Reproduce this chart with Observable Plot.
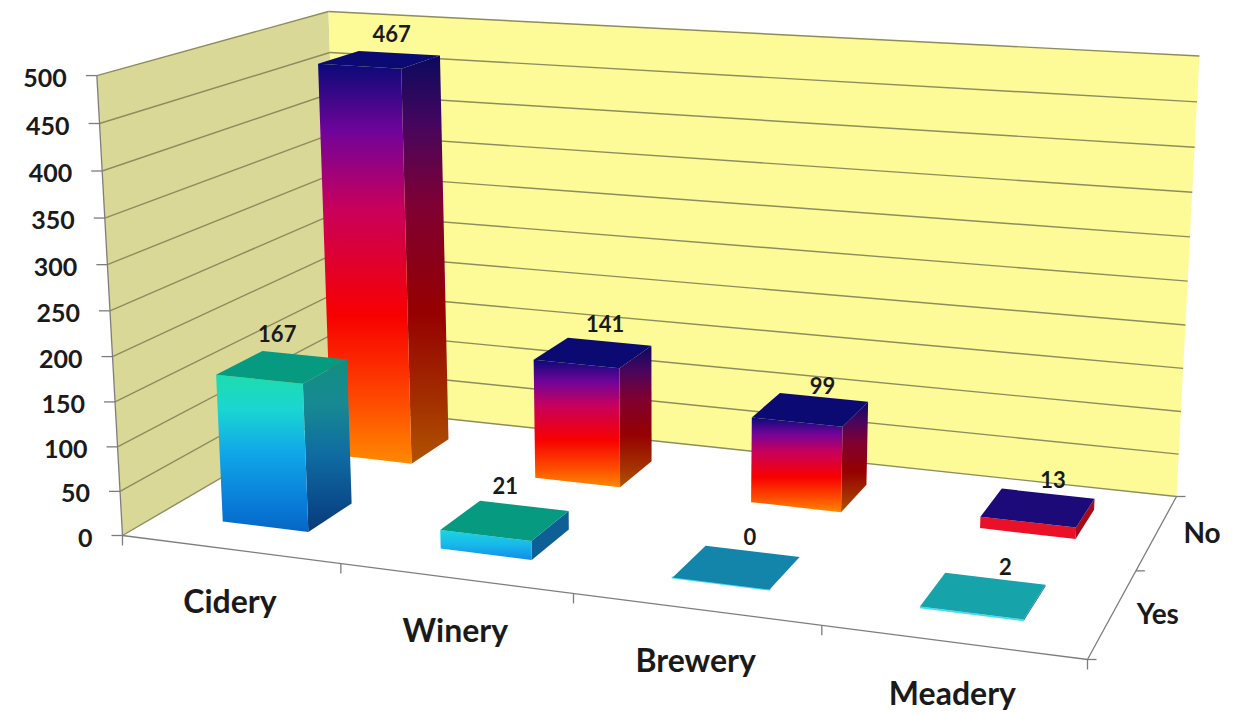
<!DOCTYPE html>
<html>
<head>
<meta charset="utf-8">
<script src="https://cdn.jsdelivr.net/npm/d3@7"></script>
<script src="https://cdn.jsdelivr.net/npm/@observablehq/plot@0.6"></script>
<style>
  html, body { margin: 0; padding: 0; background: #fff; }
  svg { display: block; }
</style>
</head>
<body>
<div id="chart"></div>
<script>
// Chart data
const categories = ["Cidery", "Winery", "Brewery", "Meadery"];
const seriesNames = ["Yes", "No"];
const yesValues = [167, 21, 0, 2];
const noValues = [467, 141, 99, 13];
const valueTicks = [0, 50, 100, 150, 200, 250, 300, 350, 400, 450, 500];

// Face colours per bar; short bars only show part of the full gradient
const yesTops = ["#069a80", "#069a80", "#1385ab", "#17a3aa"];
const noTops = ["#0a0a72", "#0a0a72", "#0a0a72", "#1c0a78"];
const yesFronts = ["url(#yesFront)", "url(#yesStub)", "#45dcf0", "#45dcf0"];
const yesSides = ["url(#yesSide)", "#0e5f96", "#0e5f96", "#0e7f96"];
const noFronts = ["url(#noFront)", "url(#noFront)", "url(#noFront)", "#ea1028"];
const noSides = ["url(#noSide)", "url(#noSide)", "url(#noSide)", "#a80a18"];

// Fine placement of the value labels, in pixels
const yesLabelDx = [-5, 0, 13, 22];
const yesLabelDy = [-32, -33, -29, -28];
const noLabelDx = [12, 12, 12, 15];
const noLabelDy = [-25, -28, -23, -27];

// Vertical gradients used on the bar faces: [offset, colour]
const gradients = {
  yesFront: [[0, "#1edcae"], [0.22, "#1ad6d2"], [0.5, "#10a6e8"], [0.85, "#0878d6"], [1, "#0566c4"]],
  yesStub: [[0, "#1ad6e0"], [0.5, "#18b8ea"], [1, "#0f8ce8"]],
  yesSide: [[0, "#128e80"], [0.25, "#178a92"], [0.55, "#0f6ca2"], [0.85, "#0a4a8a"], [1, "#083a78"]],
  noFront: [[0, "#0a0a78"], [0.17, "#70049a"], [0.36, "#c8005c"], [0.63, "#f80000"], [0.86, "#ff5000"], [1, "#ff8a00"]],
  noSide: [[0, "#0a0a5e"], [0.17, "#46065e"], [0.36, "#7e0034"], [0.63, "#960000"], [0.86, "#a43200"], [1, "#b05400"]]
};

// Perspective camera: the floor is a plane given by its corners in page pixels
// (front-left, front-right, back-right, back-left); the height axis adds a
// homogeneous offset that leans towards the vertical vanishing point.
const floorCorners = [[122, 535], [1087, 659], [1176, 496], [341, 407]];
const heightAxis = [-30, -463.3, -0.045];

function makeCamera([[x0, y0], [x1, y1], [x2, y2], [x3, y3]], [hx, hy, hw]) {
  const dx1 = x1 - x2, dx2 = x3 - x2, sx = x0 - x1 + x2 - x3;
  const dy1 = y1 - y2, dy2 = y3 - y2, sy = y0 - y1 + y2 - y3;
  const den = dx1 * dy2 - dx2 * dy1;
  const g = (sx * dy2 - dx2 * sy) / den;
  const h = (dx1 * sy - sx * dy1) / den;
  const a = x1 - x0 + g * x1, b = x3 - x0 + h * x3;
  const d = y1 - y0 + g * y1, e = y3 - y0 + h * y3;
  return (u, v, t) => {
    const w = g * u + h * v + 1 + hw * t;
    return [(a * u + b * v + x0 + hx * t) / w, (d * u + e * v + y0 + hy * t) / w];
  };
}

const camera = makeCamera(floorCorners, heightAxis);
const heightOf = d3.scaleLinear().domain([0, 500]).range([0, 1]);

// u runs along the categories, v runs front to back, value is the height
const project = (u, v, value) => camera(u, v, heightOf(value));
const px = (p) => p[0];
const py = (p) => p[1];

const nCat = categories.length;
const nSer = seriesNames.length;
const gap = 0.3; // share of a slot left empty on each side of a bar

// A closed polygon drawn through the x and y scales
const face = (points, fill) =>
  Plot.line(points, { x: px, y: py, curve: "linear-closed", fill, stroke: "none" });

function barMarks(catIndex, serIndex, value, frontFill, sideFill, topFill) {
  const u0 = (catIndex + gap) / nCat, u1 = (catIndex + 1 - gap) / nCat;
  const v0 = (serIndex + gap) / nSer, v1 = (serIndex + 1 - gap) / nSer;
  const marks = [];
  if (value > 0) {
    marks.push(face([project(u1, v0, 0), project(u1, v1, 0), project(u1, v1, value), project(u1, v0, value)], sideFill));
    marks.push(face([project(u0, v0, 0), project(u1, v0, 0), project(u1, v0, value), project(u0, v0, value)], frontFill));
  } else {
    // A zero-height bar keeps a hairline of its front colour
    marks.push(Plot.line([project(u0, v0, 0), project(u1, v0, 0)], { x: px, y: py, stroke: frontFill, strokeWidth: 2 }));
  }
  marks.push(face([project(u0, v0, value), project(u1, v0, value), project(u1, v1, value), project(u0, v1, value)], topFill));
  return marks;
}

// Gradient definitions, added to the SVG as a render function
const defsMark = () => {
  const defs = d3.create("svg:defs");
  for (const [id, stops] of Object.entries(gradients)) {
    const g = defs.append("linearGradient").attr("id", id).attr("x1", 0).attr("y1", 0).attr("x2", 0).attr("y2", 1);
    for (const [offset, colour] of stops) g.append("stop").attr("offset", offset).attr("stop-color", colour);
  }
  return defs.node();
};

const gridColour = "#8c8c5e";
const axisColour = "#7d7d7d";

const gridRows = valueTicks.map((value) => ({
  value,
  front: project(0, 0, value),
  back: project(0, 1, value),
  right: project(1, 1, value)
}));

const catTicks = d3.range(nCat + 1).map((i) => project(i / nCat, 0, 0));
const serTicks = d3.range(nSer + 1).map((i) => project(1, i / nSer, 0));

const catLabels = categories.map((name, i) => {
  const p = project((i + 0.5) / nCat, 0, 0);
  return { name, x: p[0], y: p[1] + 53 };
});
const serLabels = seriesNames.map((name, i) => {
  const p = project(1, (i + 0.5) / nSer, 0);
  return { name, x: p[0] + 45, y: p[1] + 2 };
});

const valueLabels = (values, serIndex, dxs, dys) =>
  values.map((value, i) => {
    const p = project((i + 0.5) / nCat, (serIndex + 0.5) / nSer, value);
    return { text: String(value), x: p[0] + dxs[i], y: p[1] + dys[i] };
  });

const fontFamily = "Lato, 'Open Sans', sans-serif";

const plot = Plot.plot({
  width: 1243,
  height: 713,
  margin: 0,
  x: { type: "identity", axis: null },
  y: { type: "identity", axis: null },
  style: { background: "#fff", fontFamily },
  marks: [
    defsMark,
    // Walls
    face([project(0, 0, 0), project(0, 1, 0), project(0, 1, 500), project(0, 0, 500)], "#dad897"),
    face([project(0, 1, 0), project(1, 1, 0), project(1, 1, 500), project(0, 1, 500)], "#fdfb98"),
    // Gridlines on both walls
    Plot.link(gridRows, {
      x1: (d) => d.front[0], y1: (d) => d.front[1], x2: (d) => d.back[0], y2: (d) => d.back[1],
      stroke: gridColour, strokeWidth: 1.4
    }),
    Plot.link(gridRows, {
      x1: (d) => d.back[0], y1: (d) => d.back[1], x2: (d) => d.right[0], y2: (d) => d.right[1],
      stroke: gridColour, strokeWidth: 1.4
    }),
    // Axis lines
    Plot.line([project(0, 0, 500), project(0, 0, 0), project(1, 0, 0), project(1, 1, 0)], {
      x: px, y: py, stroke: axisColour, strokeWidth: 1.3
    }),
    Plot.link(gridRows, {
      x1: (d) => d.front[0] - 11, y1: (d) => d.front[1], x2: (d) => d.front[0], y2: (d) => d.front[1],
      stroke: axisColour, strokeWidth: 1.3
    }),
    Plot.link(catTicks, {
      x1: px, y1: py, x2: px, y2: (d) => d[1] + 10,
      stroke: axisColour, strokeWidth: 1.3
    }),
    Plot.link(serTicks, {
      x1: px, y1: py, x2: (d) => d[0] + 9, y2: py,
      stroke: axisColour, strokeWidth: 1.3
    }),
    // Bars, back row first
    ...noValues.flatMap((value, i) => barMarks(i, 1, value, noFronts[i], noSides[i], noTops[i])),
    ...yesValues.flatMap((value, i) => barMarks(i, 0, value, yesFronts[i], yesSides[i], yesTops[i])),
    // Text
    Plot.text(gridRows, {
      x: (d) => d.front[0] - 30, y: (d) => d.front[1] + 3, text: (d) => String(d.value),
      textAnchor: "end", fontSize: 25, fontWeight: 700, fill: "#1a1a1a"
    }),
    Plot.text(catLabels, {
      x: "x", y: "y", text: "name", fontSize: 32, fontWeight: 700, fill: "#1a1a1a"
    }),
    Plot.text(serLabels, {
      x: "x", y: "y", text: "name", fontSize: 28, fontWeight: 700, fill: "#1a1a1a"
    }),
    Plot.text([
      ...valueLabels(yesValues, 0, yesLabelDx, yesLabelDy),
      ...valueLabels(noValues, 1, noLabelDx, noLabelDy)
    ], {
      x: "x", y: "y", text: "text", fontSize: 22, fontWeight: 700, fill: "#1a1a1a"
    })
  ]
});

document.getElementById("chart").append(plot);
</script>
</body>
</html>
